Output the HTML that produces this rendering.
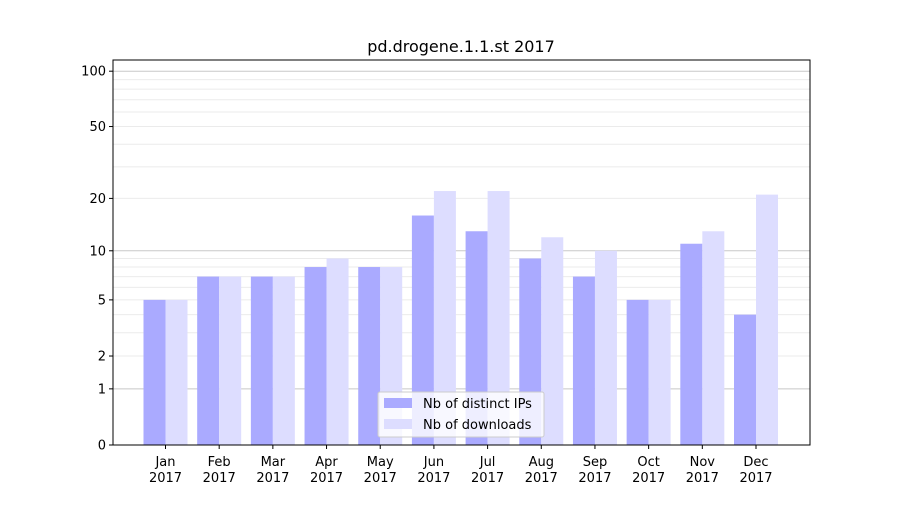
<!DOCTYPE html>
<html><head><meta charset="utf-8">
<style>
body{margin:0;background:#fff;font-family:"Liberation Sans","DejaVu Sans",sans-serif;}
svg text{font-family:"DejaVu Sans","Liberation Sans",sans-serif;}
</style></head>
<body>
<svg id="chart" width="900" height="500" xmlns="http://www.w3.org/2000/svg">
<rect width="900" height="500" fill="#fff"/>
<text x="461" y="52" font-size="16" text-anchor="middle">pd.drogene.1.1.st 2017</text>
<g id="grid"></g>
<g id="bars"></g>
<rect x="113" y="60" width="697" height="385" fill="none" stroke="#000" stroke-width="1"/>
<g id="yaxis"></g>
<g id="xaxis"></g>
<g>
<rect x="378" y="392" width="166" height="45" fill="#fff" fill-opacity="0.8" stroke="#ccc" rx="2"/>
<rect x="384" y="398" width="28" height="10" fill="#aaaaff"/>
<text x="423" y="408" font-size="13">Nb of distinct IPs</text>
<rect x="384" y="419" width="28" height="10" fill="#ddddff"/>
<text x="423" y="429" font-size="13">Nb of downloads</text>
</g>
</svg>
<script>
const months=["Jan","Feb","Mar","Apr","May","Jun","Jul","Aug","Sep","Oct","Nov","Dec"];
const ips=[5,7,7,8,8,16,13,9,7,5,11,4];
const downloads=[5,7,7,9,8,22,22,12,10,5,13,21];
const yTicks=[0,1,2,5,10,20,50,100];
const minorTicks=[2,3,4,5,6,7,8,9,20,30,40,50,60,70,80,90];
const majorGrid=[1,10,100];
const NS="http://www.w3.org/2000/svg";
const X0=113,X1=810,Y0=445;
function y(v){return Y0-186.5*Math.log10(1+v);}
function xc(i){return 165.5+i*(756-165.5)/11;}
function mk(tag,attrs,parent){const e=document.createElementNS(NS,tag);for(const k in attrs)e.setAttribute(k,attrs[k]);parent.appendChild(e);return e;}
const grid=document.getElementById('grid'),bars=document.getElementById('bars'),ya=document.getElementById('yaxis'),xa=document.getElementById('xaxis');
minorTicks.forEach(v=>{const l=mk('line',{x1:X0,x2:X1,y1:y(v),y2:y(v),stroke:'#ebebeb','stroke-width':1},grid);

});
majorGrid.forEach(v=>{const l=mk('line',{x1:X0,x2:X1,y1:y(v),y2:y(v),stroke:'#c8c8c8','stroke-width':1},grid);

});
const bw=22;
months.forEach((m,i)=>{
 const c=xc(i);
 const b1=mk('rect',{x:c-bw,y:y(ips[i]),width:bw,height:Y0-y(ips[i]),fill:'#aaaaff'},bars);
 
 
 const b2=mk('rect',{x:c,y:y(downloads[i]),width:bw,height:Y0-y(downloads[i]),fill:'#ddddff'},bars);
 
 
 mk('line',{x1:c,x2:c,y1:Y0,y2:Y0+4,stroke:'#000'},xa);
 const t=mk('text',{x:c,y:466,'font-size':13,'text-anchor':'middle'},xa);
 
 
 t.textContent=m;
 const t2=mk('text',{x:c,y:482,'font-size':13,'text-anchor':'middle'},xa);
 
 
 t2.textContent='2017';
});
yTicks.forEach(v=>{
 mk('line',{x1:X0-4,x2:X0,y1:y(v),y2:y(v),stroke:'#000'},ya);
 const t=mk('text',{x:X0-7,y:y(v)+4.5,'font-size':13,'text-anchor':'end'},ya);
 
 
 t.textContent=v;
});
</script>
</body></html>
